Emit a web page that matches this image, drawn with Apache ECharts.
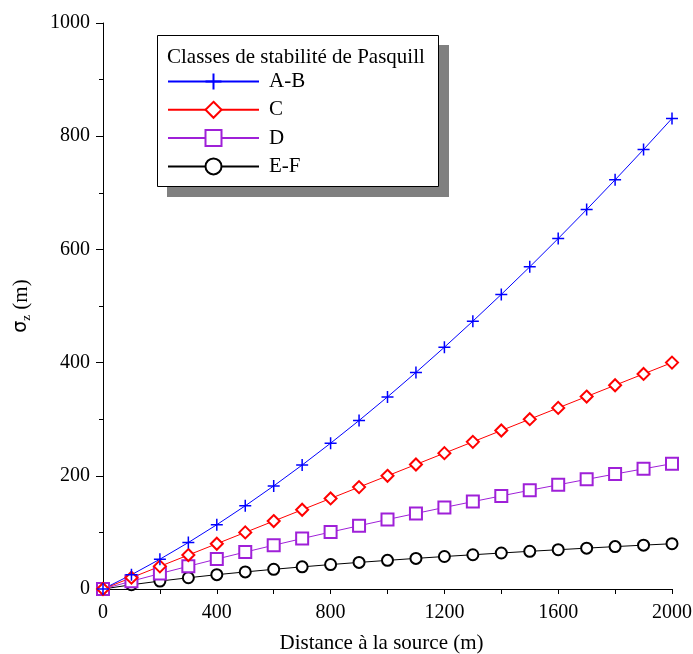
<!DOCTYPE html>
<html>
<head>
<meta charset="utf-8">
<script src="https://cdn.jsdelivr.net/npm/echarts@6/dist/echarts.min.js"></script>
<style>
html,body{margin:0;padding:0;background:#fff;}
#chart{width:693px;height:654px;}
</style>
</head>
<body>
<div id="chart"></div>
<script>
var distances = [0,100,200,300,400,500,600,700,800,900,1000,1100,1200,1300,1400,1500,1600,1700,1800,1900,2000];
var sigmaAB = [0,25.2,52.6,82.1,113.6,147.0,182.1,219.0,257.6,297.7,339.4,382.6,427.2,473.2,520.5,569.2,619.2,670.4,722.9,776.5,831.4];
var sigmaC  = [0,20,40,60,80,100,120,140,160,180,200,220,240,260,280,300,320,340,360,380,400];
var sigmaD  = [0,13.8,27.2,40.2,52.9,65.3,77.3,89.1,100.6,111.8,122.8,133.5,144.1,154.4,164.5,174.4,184.1,193.7,203.1,212.3,221.4];
var sigmaEF = [0,7.5,14.0,19.9,25.3,30.2,34.8,39.1,43.2,47.0,50.6,54.1,57.4,60.5,63.6,66.6,69.4,72.2,74.9,77.5,80.0];
var seriesNames = ['A-B','C','D','E-F'];
var legendTitle = 'Classes de stabilité de Pasquill';
var xName = 'Distance à la source (m)';

function pairs(ys){ return distances.map(function(x,i){ return [x, ys[i]]; }); }

var FONT = 'Liberation Serif';
var chart = echarts.init(document.getElementById('chart'), null, {renderer:'canvas'});

function mkSeries(name, ys, color, symbol, size){
  return {
    name: name, type: 'line', data: pairs(ys),
    symbol: symbol, symbolSize: size, showSymbol: true,
    lineStyle: {color: color, width: 1},
    itemStyle: {color: color, borderColor: color, borderWidth: 1.5},
    emphasis: {disabled: true},
    animation: false
  };
}
function plain(v){ return String(v); }

chart.setOption({
  backgroundColor: '#fff',
  animation: false,
  textStyle: {fontFamily: FONT},
  grid: {left: 103, right: 21, top: 23, bottom: 65, containLabel: false, outerBoundsMode: 'none'},
  graphic: [
    {type:'rect', z: 1, shape:{x:167, y:45, width:282, height:152}, style:{fill:'#808080'}},
    {type:'rect', z: 2, shape:{x:157.5, y:35.5, width:281, height:151}, style:{fill:'#fff', stroke:'#000', lineWidth:1}},
    {type:'text', z: 3, x:167, y:57, style:{text: legendTitle, font: '21px "Liberation Serif"', fill:'#000', textVerticalAlign:'middle', verticalAlign:'middle'}}
  ],
  legend: {
    orient: 'vertical', left: 167, top: 71, padding: 0,
    itemWidth: 91, itemHeight: 20, itemGap: 7.3,
    data: seriesNames,
    textStyle: {fontFamily: FONT, fontSize: 21, color: '#000', padding: [0,0,0,5]},
    selectedMode: false
  },
  xAxis: {
    type: 'value', min: 0, max: 2000, interval: 400,
    name: xName, nameLocation: 'middle', nameGap: 44,
    nameTextStyle: {fontFamily: FONT, fontSize: 21, color: '#000', padding: [0,12,0,0]},
    axisLine: {show: true, onZero: false, lineStyle: {color: '#000', width: 1}},
    axisTick: {show: true, inside: false, length: 5, lineStyle: {color: '#000'}},
    minorTick: {show: true, splitNumber: 2, length: 5, lineStyle: {color: '#000'}},
    axisLabel: {fontFamily: FONT, fontSize: 20, color: '#000', margin: 14, formatter: plain},
    splitLine: {show: false}
  },
  yAxis: {
    type: 'value', min: 0, max: 1000, interval: 200,
    name: '{s|σ}{z|z} (m)', nameLocation: 'middle', nameGap: 70, nameRotate: 90,
    nameTextStyle: {fontFamily: FONT, fontSize: 21, color: '#000',
      rich: {
        s: {fontFamily: 'DejaVu Sans', fontSize: 19, color: '#000'},
        z: {fontFamily: FONT, fontSize: 13, color: '#000', verticalAlign: 'bottom', padding: [10,0,0,0]}
      }
    },
    axisLine: {show: true, onZero: false, lineStyle: {color: '#000', width: 1}},
    axisTick: {show: true, inside: false, length: 7, lineStyle: {color: '#000'}},
    minorTick: {show: true, splitNumber: 2, length: 4, lineStyle: {color: '#000'}},
    axisLabel: {fontFamily: FONT, fontSize: 20, color: '#000', margin: 13, formatter: plain},
    splitLine: {show: false}
  },
  series: [
    mkSeries('E-F', sigmaEF, '#000000', 'emptyCircle', 11),
    mkSeries('D', sigmaD, '#9f20d8', 'emptyRect', 12),
    mkSeries('C', sigmaC, '#ff0000', 'emptyDiamond', 12),
    mkSeries('A-B', sigmaAB, '#0000ff', 'path://M5,0L5,10M0,5L10,5', 12)
  ]
});
</script>
</body>
</html>
